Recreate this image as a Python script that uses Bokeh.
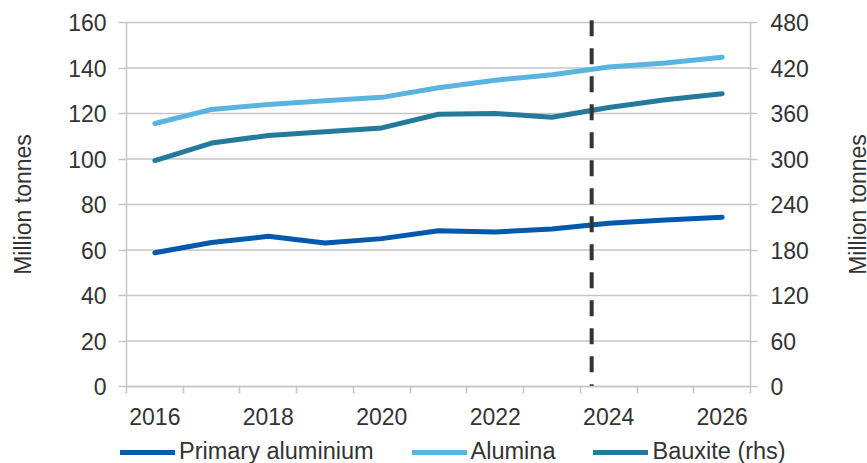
import math
from bokeh.plotting import figure
from bokeh.models import (Range1d, LinearAxis, FixedTicker, Legend, LegendItem, Label)
from bokeh.embed import file_html
from bokeh.resources import INLINE

# ---- data ----
years = [2016, 2017, 2018, 2019, 2020, 2021, 2022, 2023, 2024, 2025, 2026]
primary_aluminium = [58.8, 63.3, 66.0, 63.1, 65.0, 68.5, 67.9, 69.2, 71.8, 73.2, 74.4]
alumina = [115.6, 121.8, 124.0, 125.6, 127.1, 131.3, 134.6, 137.0, 140.4, 142.2, 144.7]
bauxite_rhs = [298, 321, 331, 336, 341, 359, 360, 355, 368, 378, 386]
forecast_marker = 2023.7
left_ticks = [0, 20, 40, 60, 80, 100, 120, 140, 160]
right_ticks = [0, 60, 120, 180, 240, 300, 360, 420, 480]
x_label_ticks = [2016, 2018, 2020, 2022, 2024, 2026]
series_names = ["Primary aluminium", "Alumina", "Bauxite (rhs)"]
axis_title = "Million tonnes"

FONT = "Liberation Sans"
TXT = "#333333"
GRID = "#C6C6C6"
C_PRIM = "#0059AC"
C_ALU = "#5AB4E0"
C_BAUX = "#237A9B"

# canvas geometry (px): plot area spans x 126..750, y 22..386
W, H = 867, 463
L, R, T, B = 126, 750, 22, 386
x0, x1 = years[0] - 0.5, years[-1] + 0.5
pxx = (R - L) / (x1 - x0)
y1 = left_ticks[-1]
pxy = (B - T) / y1
xr = Range1d(x0 - L / pxx, x1 + (W - R) / pxx)
yr = Range1d(-(H - B) / pxy, y1 + T / pxy)
rscale = right_ticks[-1] / left_ticks[-1]

p = figure(width=W, height=H, output_backend="svg", toolbar_location=None,
           x_range=xr, y_range=yr, min_border=0, min_border_left=0, min_border_right=0,
           min_border_top=0, min_border_bottom=0, outline_line_color=None)
p.extra_y_ranges = {"rhs": Range1d(yr.start * rscale, yr.end * rscale)}

# x axis
p.xaxis.fixed_location = 0
p.xaxis.bounds = (x0, x1)
p.xaxis.ticker = FixedTicker(ticks=x_label_ticks,
                             minor_ticks=[y - 0.5 for y in years] + [years[-1] + 0.5])
p.xaxis.major_tick_out = 0
p.xaxis.major_tick_in = 0
p.xaxis.minor_tick_out = 7
p.xaxis.minor_tick_in = 0
p.xaxis.major_label_standoff = 14

# left axis
p.yaxis.fixed_location = x0
p.yaxis.bounds = (0, y1)
p.yaxis.ticker = FixedTicker(ticks=left_ticks, minor_ticks=[])
p.yaxis.major_tick_out = 8
p.yaxis.major_tick_in = 0
p.yaxis.major_label_standoff = 12
p.yaxis.axis_label = axis_title
p.yaxis.axis_label_standoff = 29

# right axis
raxis = LinearAxis(y_range_name="rhs", ticker=FixedTicker(ticks=right_ticks, minor_ticks=[]))
raxis.fixed_location = x1
raxis.bounds = (0, right_ticks[-1])
raxis.major_tick_out = 7
raxis.major_tick_in = 0
raxis.major_label_standoff = 13
p.add_layout(raxis, "right")

for ax in [p.xaxis[0], p.yaxis[0], raxis]:
    ax.axis_line_color = GRID
    ax.axis_line_width = 1.5
    ax.major_tick_line_color = GRID if ax is not p.xaxis[0] else None
    ax.major_tick_line_width = 1.5
    ax.minor_tick_line_color = GRID if ax is p.xaxis[0] else None
    ax.minor_tick_line_width = 1.5
    ax.major_label_text_font = FONT
    ax.major_label_text_font_size = "23px"
    ax.major_label_text_color = TXT
    ax.axis_label_text_font = FONT
    ax.axis_label_text_font_size = "23px"
    ax.axis_label_text_font_style = "normal"
    ax.axis_label_text_color = TXT

# right-hand axis title (reads bottom to top, like the left one)
p.add_layout(Label(x=x1 + (857 - R) / pxx, y=y1 / 2, text=axis_title, angle=math.pi / 2,
                   text_align="center", text_baseline="middle",
                   text_font=FONT, text_font_size="23px", text_color=TXT))

# horizontal gridlines limited to the plot area
p.grid.visible = False
p.segment(x0=[x0] * len(left_ticks), y0=left_ticks, x1=[x1] * len(left_ticks), y1=left_ticks,
          line_color=GRID, line_width=1.5)

# lines
common = dict(line_width=5, line_cap="round", line_join="round")
r1 = p.line(years, primary_aluminium, line_color=C_PRIM, **common)
r2 = p.line(years, alumina, line_color=C_ALU, **common)
r3 = p.line(years, bauxite_rhs, y_range_name="rhs", line_color=C_BAUX, **common)

# forecast marker
p.line([forecast_marker, forecast_marker], [161, 0], line_color="#333333", line_width=4,
       line_dash="16 12")

legend = Legend(items=[LegendItem(label=series_names[0], renderers=[r1]),
                       LegendItem(label=series_names[1], renderers=[r2]),
                       LegendItem(label=series_names[2], renderers=[r3])],
                orientation="horizontal", location=(120, -2),
                padding=0, margin=0, spacing=38, label_standoff=4,
                glyph_width=55, glyph_height=20, label_height=20,
                border_line_color=None, background_fill_alpha=0,
                label_text_font=FONT, label_text_font_size="23.5px", label_text_color=TXT)
p.add_layout(legend, "center")

open("out.html", "w").write(file_html(p, INLINE))
